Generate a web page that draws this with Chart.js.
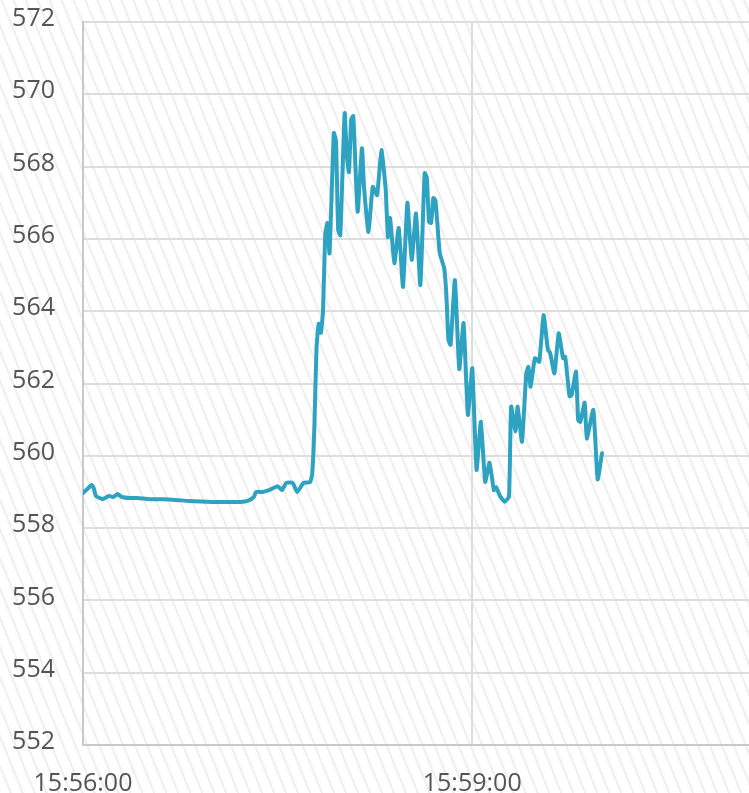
<!DOCTYPE html>
<html>
<head>
<meta charset="utf-8">
<script src="https://cdn.jsdelivr.net/npm/chart.js@4"></script>
<style>
  html, body { margin: 0; padding: 0; background: #fff; }
  #wrap {
    width: 749px; height: 793px;
    background: repeating-linear-gradient(68deg, #ffffff 0px, #ffffff 8.9px, #f0f0f0 8.9px, #f0f0f0 11.1px);
  }
  canvas { display: block; }
</style>
</head>
<body>
<div id="wrap"><canvas id="c" width="749" height="793"></canvas></div>
<script>
// seconds after 15:56:00
const times = [0, 2, 4, 5, 6, 9, 11, 12, 14, 16, 18, 22, 25, 31, 37, 43, 49, 60, 67, 73, 76, 79, 80, 83, 86, 87, 90, 92, 94, 97, 99, 102, 105,
  106, 107, 108, 109, 110, 111, 112, 113, 114, 116, 117, 118, 119, 121, 122, 123, 124, 125, 127, 129, 130, 132, 134, 136, 138, 140, 141, 142, 144,
  146, 148, 150, 152, 154, 156, 158, 159, 160, 161, 162, 163, 165, 167, 168, 169, 170, 172, 174, 176, 178, 180, 182, 184, 186, 188, 190, 191,
  193, 195, 197, 198, 200, 201, 203, 205, 206, 207, 209, 211, 213, 215, 216, 218, 220, 222, 223, 225, 226, 228, 229, 230, 232, 233, 236, 238, 240];
const prices = [558.97, 559.08, 559.19, 559.1, 558.89, 558.8, 558.86, 558.89, 558.86, 558.94, 558.86, 558.83, 558.83, 558.8, 558.8, 558.78, 558.75,
  558.72, 558.72, 558.72, 558.75, 558.86, 559.0, 559.0, 559.05, 559.08, 559.16, 559.05, 559.25, 559.25, 559.0, 559.25, 559.27,
  559.5, 560.8, 563.0, 563.65, 563.4, 564.0, 566.1, 566.44, 565.6, 568.93, 568.7, 566.25, 566.1, 569.48, 568.3, 567.85, 569.29, 569.4, 566.75,
  568.51, 567.4, 566.19, 567.44, 567.21, 568.46, 567.35, 566.05, 566.58, 565.33,
  566.3, 564.67, 567.0, 565.42, 566.7, 564.72, 567.82, 567.7, 566.47, 566.44, 567.13, 567.07, 565.6, 565.2, 564.5, 563.2, 563.07, 564.86,
  562.4, 563.67, 561.13, 562.42, 559.61, 560.94, 559.28, 559.81, 559.05, 559.13,
  558.87, 558.73, 558.87, 561.36, 560.67, 561.36, 560.39, 562.28, 562.46, 561.91, 562.7, 562.6, 563.89, 562.93, 562.85, 562.28, 563.39, 562.7,
  562.74, 561.65, 561.68, 562.33, 560.99, 560.94, 561.47, 560.48, 561.27, 559.35, 560.07];
const xTickSeconds = [0, 180];
const yTicks = [552, 554, 556, 558, 560, 562, 564, 566, 568, 570, 572];
const startClock = [15, 56, 0];

function fmtTime(sec) {
  let total = startClock[0] * 3600 + startClock[1] * 60 + startClock[2] + sec;
  const h = Math.floor(total / 3600), m = Math.floor((total % 3600) / 60), s = total % 60;
  const p = n => String(n).padStart(2, '0');
  return p(h) + ':' + p(m) + ':' + p(s);
}

Chart.defaults.font.family = "'Open Sans', sans-serif";
Chart.defaults.font.size = 25;
Chart.defaults.color = '#555555';

new Chart(document.getElementById('c'), {
  type: 'line',
  data: {
    datasets: [{
      data: times.map((t, i) => ({ x: t, y: prices[i] })),
      borderColor: '#2ea3c1',
      borderWidth: 4,
      borderJoinStyle: 'round',
      borderCapStyle: 'round',
      pointRadius: 0,
      tension: 0.15,
      fill: false
    }]
  },
  options: {
    responsive: false,
    animation: false,
    layout: { padding: { top: 22, right: 0, left: 3, bottom: 0 } },
    plugins: { legend: { display: false }, tooltip: { enabled: false } },
    scales: {
      x: {
        type: 'linear',
        min: 0,
        max: 308,
        afterBuildTicks: s => { s.ticks = xTickSeconds.map(v => ({ value: v })); },
        afterFit: s => { s.height = 48; s.paddingLeft = 0; s.paddingRight = 0; },
        ticks: { padding: 24, maxRotation: 0, autoSkip: false, callback: v => fmtTime(v) },
        grid: { color: '#dddddd', lineWidth: 2, drawTicks: false },
        border: { color: '#c8c8c8', width: 2 }
      },
      y: {
        min: 552,
        max: 572,
        afterBuildTicks: s => { s.ticks = yTicks.map(v => ({ value: v })); },
        afterFit: s => { s.width = 80; s.paddingTop = 0; s.paddingBottom = 0; },
        ticks: { padding: 28, labelOffset: -3, callback: v => String(v) },
        grid: { color: '#dddddd', lineWidth: 2, drawTicks: false },
        border: { color: '#c8c8c8', width: 2 }
      }
    }
  }
});
</script>
</body>
</html>
